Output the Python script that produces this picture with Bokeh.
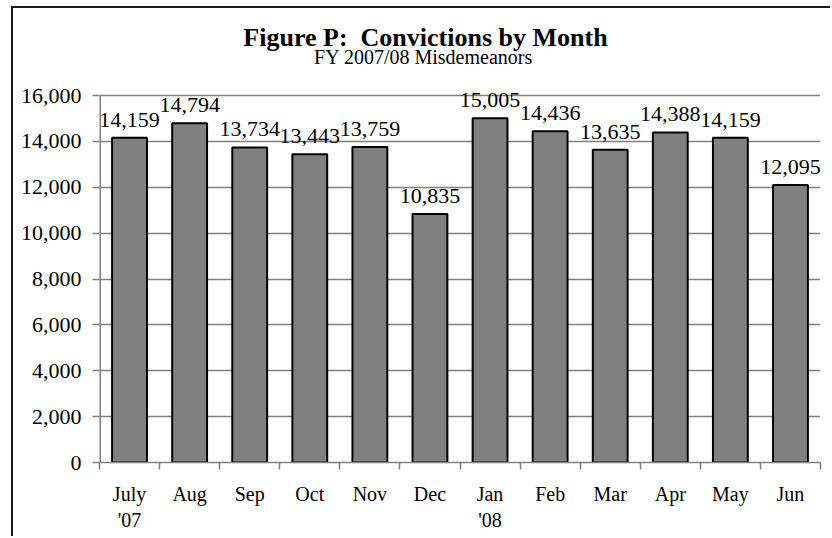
from bokeh.plotting import figure
from bokeh.models import Label, FixedTicker, NumeralTickFormatter, ColumnDataSource, Range1d
from bokeh.embed import file_html
from bokeh.resources import INLINE
from bokeh.core.properties import value

months = ["July\n'07", "Aug", "Sep", "Oct", "Nov", "Dec",
          "Jan\n'08", "Feb", "Mar", "Apr", "May", "Jun"]
convictions = [14159, 14794, 13734, 13443, 13759, 10835,
               15005, 14436, 13635, 14388, 14159, 12095]
y_ticks = [0, 2000, 4000, 6000, 8000, 10000, 12000, 14000, 16000]
title_text = "Figure P:\u00a0 Convictions by Month"
subtitle_text = "FY 2007/08 Misdemeanors"

FONT = "Liberation Serif"
GRAY = "#808080"

# layout (page pixels)
CANVAS_TOP = 8
FRAME_LEFT, FRAME_RIGHT, FRAME_BOTTOM, AXIS_TOP = 99, 820, 462, 95
Y_MAX = y_ticks[-1]
n = len(months)
px_per_unit_y = (FRAME_BOTTOM - AXIS_TOP) / Y_MAX
px_per_cat = (FRAME_RIGHT - FRAME_LEFT) / n
y_top = (FRAME_BOTTOM - CANVAS_TOP) / px_per_unit_y


def to_x(px):
    return -0.5 + (px - FRAME_LEFT) / px_per_cat


def to_y(py):
    return (FRAME_BOTTOM - py) / px_per_unit_y


xs = list(range(n))
src = ColumnDataSource(dict(
    x=xs,
    value=convictions,
    label=[f"{v:,}" for v in convictions],
))

p = figure(width=819, height=530,
           x_range=Range1d(-0.5, n - 0.5),
           y_range=Range1d(0, y_top),
           output_backend="svg", toolbar_location=None, title=None,
           min_border_left=86, min_border_right=12, min_border_bottom=76,
           min_border_top=0)
p.styles = {"border-left": "2px solid #1a1a1a", "border-top": "2px solid #1a1a1a",
            "margin-left": "11px", "margin-top": "6px"}
p.outline_line_color = None
p.background_fill_color = "white"
p.border_fill_color = "white"

# grid
p.xgrid.grid_line_color = None
p.ygrid.ticker = FixedTicker(ticks=y_ticks)
p.ygrid.grid_line_color = GRAY
p.ygrid.grid_line_width = 1.5

# x axis
xa = p.xaxis[0]
xa.ticker = FixedTicker(ticks=xs, minor_ticks=[i - 0.5 for i in range(n + 1)])
xa.major_label_overrides = {i: m for i, m in enumerate(months)}
xa.major_tick_line_color = None
xa.major_tick_out = 0
xa.major_tick_in = 0
xa.minor_tick_line_color = GRAY
xa.minor_tick_line_width = 1.5
xa.minor_tick_out = 7
xa.minor_tick_in = 0
xa.axis_line_color = GRAY
xa.axis_line_width = 1.5
xa.major_label_standoff = 13
xa.major_label_text_font = FONT
xa.major_label_text_font_size = "20px"
xa.major_label_text_color = "black"

# y axis (axis line drawn separately so it stops at the top tick)
ya = p.yaxis[0]
ya.ticker = FixedTicker(ticks=y_ticks)
ya.formatter = NumeralTickFormatter(format="0,0")
ya.major_tick_line_color = GRAY
ya.major_tick_line_width = 1.5
ya.major_tick_out = 7
ya.major_tick_in = 0
ya.minor_tick_line_color = None
ya.axis_line_color = None
ya.major_label_standoff = 11
ya.major_label_text_font = FONT
ya.major_label_text_font_size = "22px"
ya.major_label_text_color = "black"
p.segment(x0=[-0.5], y0=[0], x1=[-0.5], y1=[Y_MAX], line_color=GRAY, line_width=3)

# bars
p.vbar(x="x", top="value", width=0.58, source=src,
       fill_color=GRAY, line_color="black", line_width=2)

# data labels
p.text(x="x", y="value", text="label", source=src,
       text_align="center", text_baseline="alphabetic", y_offset=-18,
       text_font=value(FONT), text_font_size="22px", text_color="black")

# titles
p.add_layout(Label(x=to_x(425), y=to_y(37), text=title_text,
                   text_align="center", text_baseline="alphabetic",
                   text_font=FONT, text_font_size="26px", text_font_style="bold",
                   text_color="black"))
p.add_layout(Label(x=to_x(423), y=to_y(56), text=subtitle_text,
                   text_align="center", text_baseline="alphabetic",
                   text_font=FONT, text_font_size="20px", text_color="black"))

open("out.html", "w").write(file_html(p, INLINE))
